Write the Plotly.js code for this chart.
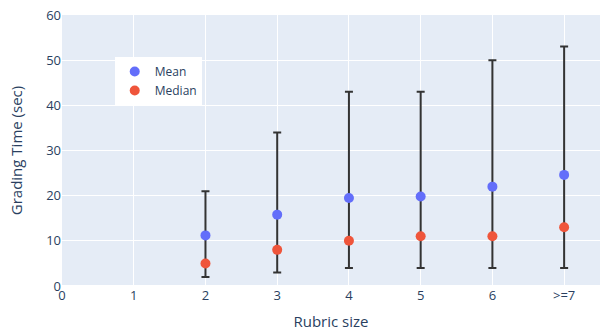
<!DOCTYPE html>
<html>
<head>
<meta charset="utf-8">
<script src="https://cdn.plot.ly/plotly-3.0.1.min.js"></script>
<style>html,body{margin:0;padding:0;background:#fff;}</style>
</head>
<body>
<div id="chart" style="width:600px;height:331px;"></div>
<script>
const rubricSize = [2, 3, 4, 5, 6, 7];
const meanTime = [11.2, 15.8, 19.5, 19.8, 22.0, 24.6];
const medianTime = [5, 8, 10, 11, 11, 13];
const lowTime = [2, 3, 4, 4, 4, 4];
const highTime = [21, 34, 43, 43, 50, 53];
const tickVals = [0, 1, 2, 3, 4, 5, 6, 7];
const tickText = ["0", "1", "2", "3", "4", "5", "6", ">=7"];

const errPlus = highTime.map((h, i) => h - meanTime[i]);
const errMinus = lowTime.map((l, i) => meanTime[i] - l);

const traces = [
  {
    x: rubricSize, y: meanTime, name: "Mean", mode: "markers", type: "scatter",
    marker: {color: "#636efa", size: 10},
    error_y: {type: "data", symmetric: false, array: errPlus, arrayminus: errMinus,
              color: "#333333", thickness: 2, width: 4}
  },
  {
    x: rubricSize, y: medianTime, name: "Median", mode: "markers", type: "scatter",
    marker: {color: "#EF553B", size: 10}
  }
];

const layout = {
  width: 600, height: 331,
  margin: {l: 62, r: 0, t: 15, b: 45},
  paper_bgcolor: "#ffffff",
  plot_bgcolor: "#E5ECF6",
  font: {family: "Open Sans, sans-serif", size: 13, color: "#2a3f5f"},
  showlegend: true,
  legend: {x: 0.098, y: 0.845, xanchor: "left", yanchor: "top", bgcolor: "#ffffff",
           font: {size: 12}},
  xaxis: {
    range: [0, 7.5], tickvals: tickVals, ticktext: tickText,
    gridcolor: "#ffffff", gridwidth: 1, zeroline: false, showline: false,
    title: {text: "Rubric size", font: {size: 15}},
    tickfont: {size: 13},
    ticks: ""
  },
  yaxis: {
    range: [0, 60], dtick: 10,
    gridcolor: "#ffffff", gridwidth: 1, zeroline: true, zerolinecolor: "#ffffff", zerolinewidth: 2,
    title: {text: "Grading Time (sec)", font: {size: 15}},
    tickfont: {size: 13},
    ticks: ""
  }
};

Plotly.newPlot("chart", traces, layout, {displayModeBar: false, responsive: false});
</script>
</body>
</html>
